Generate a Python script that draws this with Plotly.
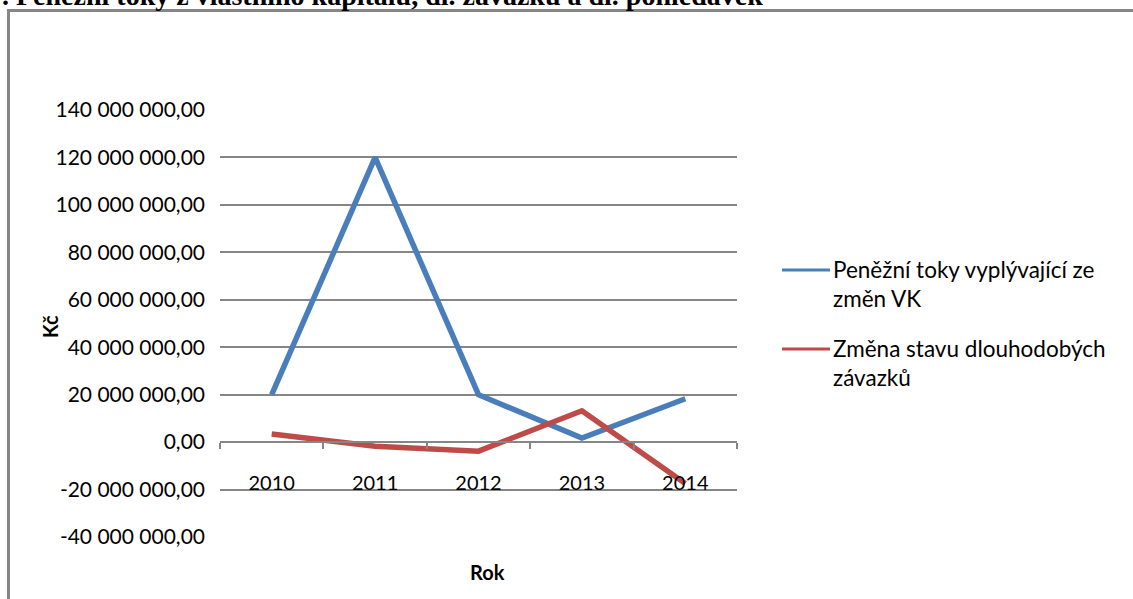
import plotly.graph_objects as go

# --- data -------------------------------------------------------------
years = ["2010", "2011", "2012", "2013", "2014"]
vk_flows = [20_000_000, 120_000_000, 20_000_000, 1_700_000, 18_300_000]
long_term_liab = [3_400_000, -1_700_000, -3_800_000, 13_200_000, -17_400_000]

series_names = [
    "Peněžní toky vyplývající ze<br>změn VK",
    "Změna stavu dlouhodobých<br>závazků",
]
series_colors = ["#4A7EBB", "#BE4B48"]

y_ticks = [-40_000_000, -20_000_000, 0, 20_000_000, 40_000_000, 60_000_000,
           80_000_000, 100_000_000, 120_000_000, 140_000_000]
y_tick_labels = ["-40 000 000,00", "-20 000 000,00", "0,00", "20 000 000,00",
                 "40 000 000,00", "60 000 000,00", "80 000 000,00",
                 "100 000 000,00", "120 000 000,00", "140 000 000,00"]

title_text = ". Peněžní toky z vlastního kapitálu, dl. závazků a dl. pohledávek"
x_title = "Rok"
y_title = "Kč"

# --- geometry ---------------------------------------------------------
W, H = 1133, 599
L, R, T, B = 220, 737, 110, 537          # plot area in pixels
y_min, y_max = y_ticks[0], y_ticks[-1]


def px_x(px):
    return (px - L) / (R - L)


def px_y(py):
    return (B - py) / (B - T)


FONT = "Lato"
GRID = "#868686"

fig = go.Figure()
for name, vals, col in zip(series_names, [vk_flows, long_term_liab], series_colors):
    fig.add_trace(go.Scatter(
        x=years, y=vals, mode="lines", name=name,
        line=dict(color=col, width=5.5), showlegend=False,
    ))

fig.update_layout(
    width=W, height=H,
    margin=dict(l=L, r=W - R, t=T, b=H - B, pad=0),
    paper_bgcolor="white", plot_bgcolor="white",
    font=dict(family=FONT, size=21, color="#000000"),
    xaxis=dict(
        type="category", range=[-0.5, len(years) - 0.5],
        anchor="free", position=(0 - y_min) / (y_max - y_min),
        showline=True, linecolor=GRID, linewidth=2,
        ticks="outside", tickson="boundaries", ticklen=6, tickcolor=GRID, tickwidth=2,
        ticklabelstandoff=23, showgrid=False, zeroline=False,
        tickfont=dict(family=FONT, size=20),
    ),
    yaxis=dict(
        range=[y_min, y_max], tickvals=y_ticks, ticktext=y_tick_labels,
        showgrid=True, gridcolor=GRID, gridwidth=1.5, zeroline=False,
        showline=False, ticks="", ticklabelstandoff=14,
        tickfont=dict(family=FONT, size=21),
    ),
)

# chart frame: a grey sheet with a white sheet laid over it, offset by the
# border thickness, so only the left and top edges show (no strokes used)
FRAME_X, FRAME_Y, FRAME_W = 7, 9, 3
fig.add_shape(type="rect", xref="paper", yref="paper", layer="below",
              x0=px_x(FRAME_X), x1=px_x(W + 60), y0=px_y(FRAME_Y), y1=px_y(H + 60),
              line=dict(width=0), fillcolor=GRID)
fig.add_shape(type="rect", xref="paper", yref="paper", layer="below",
              x0=px_x(FRAME_X + FRAME_W), x1=px_x(W + 60),
              y0=px_y(FRAME_Y + FRAME_W), y1=px_y(H + 60),
              line=dict(width=0), fillcolor="white")

# legend drawn beside the plot
legend_rows = [270, 349]
for name, col, row in zip(series_names, series_colors, legend_rows):
    fig.add_shape(type="line", xref="paper", yref="paper",
                  x0=px_x(782), x1=px_x(830), y0=px_y(row), y1=px_y(row),
                  line=dict(color=col, width=3))
    fig.add_annotation(xref="paper", yref="paper", x=px_x(831), y=px_y(row - 16),
                       xanchor="left", yanchor="top", align="left", showarrow=False,
                       text=name, font=dict(family=FONT, size=22.5))

# axis titles
fig.add_annotation(xref="paper", yref="paper", x=px_x(487), y=px_y(572),
                   xanchor="center", yanchor="middle", showarrow=False,
                   text=f"<b>{x_title}</b>", font=dict(family=FONT, size=20))
fig.add_annotation(xref="paper", yref="paper", x=px_x(50), y=px_y(327),
                   xanchor="center", yanchor="middle", showarrow=False, textangle=-90,
                   text=f"<b>{y_title}</b>", font=dict(family=FONT, size=20))

# caption above the chart frame
fig.add_annotation(xref="paper", yref="paper", x=px_x(0), y=px_y(13),
                   xanchor="left", yanchor="bottom", showarrow=False,
                   text=f"<b>{title_text}</b>",
                   font=dict(family="Liberation Serif", size=28, color="#000000"))

fig.write_html("out.html")
